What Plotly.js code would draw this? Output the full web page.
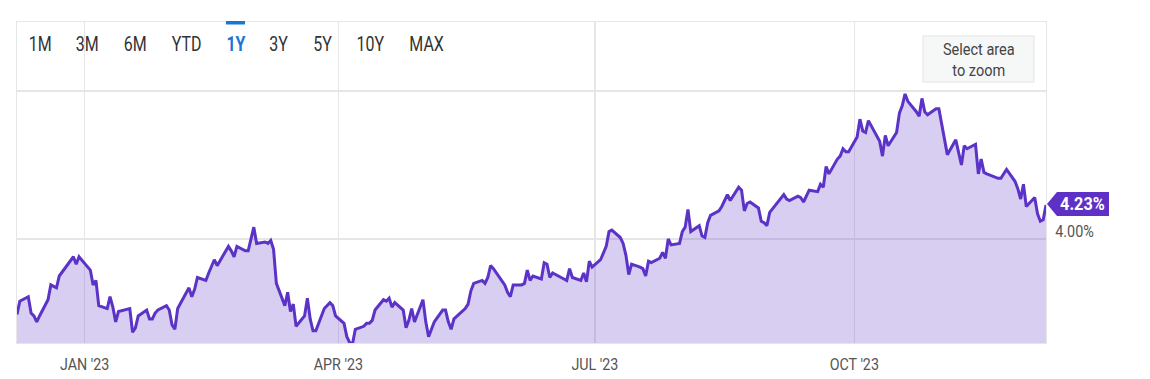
<!DOCTYPE html>
<html>
<head>
<meta charset="utf-8">
<script src="https://cdn.plot.ly/plotly-3.0.1.min.js"></script>
<style>
  html, body { margin: 0; padding: 0; background: #ffffff; }
  #chart { width: 1150px; height: 379px; }
</style>
</head>
<body>
<div id="chart"></div>
<script>
// ---- Data (10-year yield, daily, Dec 2022 – Dec 2023) ----
const dates = [
  '2022-12-08','2022-12-09','2022-12-12','2022-12-13','2022-12-14','2022-12-15','2022-12-16','2022-12-19','2022-12-20','2022-12-21','2022-12-22','2022-12-23','2022-12-27','2022-12-28','2022-12-29','2022-12-30',
  '2023-01-03','2023-01-04','2023-01-05','2023-01-06','2023-01-09','2023-01-10','2023-01-11','2023-01-12','2023-01-13','2023-01-17','2023-01-18','2023-01-19','2023-01-20','2023-01-23','2023-01-24','2023-01-25','2023-01-26','2023-01-27','2023-01-30','2023-01-31',
  '2023-02-01','2023-02-02','2023-02-03','2023-02-06','2023-02-07','2023-02-08','2023-02-09','2023-02-10','2023-02-13','2023-02-14','2023-02-15','2023-02-16','2023-02-17','2023-02-21','2023-02-22','2023-02-23','2023-02-24','2023-02-27','2023-02-28',
  '2023-03-01','2023-03-02','2023-03-03','2023-03-06','2023-03-07','2023-03-08','2023-03-09','2023-03-10','2023-03-13','2023-03-14','2023-03-15','2023-03-16','2023-03-17','2023-03-20','2023-03-21','2023-03-22','2023-03-23','2023-03-24','2023-03-27','2023-03-28','2023-03-29','2023-03-30','2023-03-31',
  '2023-04-03','2023-04-04','2023-04-05','2023-04-06','2023-04-07','2023-04-10','2023-04-11','2023-04-12','2023-04-13','2023-04-14','2023-04-17','2023-04-18','2023-04-19','2023-04-20','2023-04-21','2023-04-24','2023-04-25','2023-04-26','2023-04-27','2023-04-28',
  '2023-05-01','2023-05-02','2023-05-03','2023-05-04','2023-05-05','2023-05-08','2023-05-09','2023-05-10','2023-05-11','2023-05-12','2023-05-15','2023-05-16','2023-05-17','2023-05-18','2023-05-19','2023-05-22','2023-05-23','2023-05-24','2023-05-25','2023-05-26','2023-05-30','2023-05-31',
  '2023-06-01','2023-06-02','2023-06-05','2023-06-06','2023-06-07','2023-06-08','2023-06-09','2023-06-12','2023-06-13','2023-06-14','2023-06-15','2023-06-16','2023-06-20','2023-06-21','2023-06-22','2023-06-23','2023-06-26','2023-06-27','2023-06-28','2023-06-29','2023-06-30',
  '2023-07-03','2023-07-05','2023-07-06','2023-07-07','2023-07-10','2023-07-11','2023-07-12','2023-07-13','2023-07-14','2023-07-17','2023-07-18','2023-07-19','2023-07-20','2023-07-21','2023-07-24','2023-07-25','2023-07-26','2023-07-27','2023-07-28','2023-07-31',
  '2023-08-01','2023-08-02','2023-08-03','2023-08-04','2023-08-07','2023-08-08','2023-08-09','2023-08-10','2023-08-11','2023-08-14','2023-08-15','2023-08-16','2023-08-17','2023-08-18','2023-08-21','2023-08-22','2023-08-23','2023-08-24','2023-08-25','2023-08-28','2023-08-29','2023-08-30','2023-08-31',
  '2023-09-01','2023-09-05','2023-09-06','2023-09-07','2023-09-08','2023-09-11','2023-09-12','2023-09-13','2023-09-14','2023-09-15','2023-09-18','2023-09-19','2023-09-20','2023-09-21','2023-09-22','2023-09-25','2023-09-26','2023-09-27','2023-09-28','2023-09-29',
  '2023-10-02','2023-10-03','2023-10-04','2023-10-05','2023-10-06','2023-10-10','2023-10-11','2023-10-12','2023-10-13','2023-10-16','2023-10-17','2023-10-18','2023-10-19','2023-10-20','2023-10-23','2023-10-24','2023-10-25','2023-10-26','2023-10-27','2023-10-30','2023-10-31',
  '2023-11-01','2023-11-02','2023-11-03','2023-11-06','2023-11-07','2023-11-08','2023-11-09','2023-11-10','2023-11-13','2023-11-14','2023-11-15','2023-11-16','2023-11-17','2023-11-20','2023-11-21','2023-11-22','2023-11-24','2023-11-27','2023-11-28','2023-11-29','2023-11-30',
  '2023-12-01','2023-12-04','2023-12-05','2023-12-06','2023-12-07','2023-12-08'
];
const yields = [
  3.49,3.58,3.61,3.50,3.48,3.44,3.48,3.59,3.69,3.68,3.67,3.75,3.86,3.88,3.83,3.88,
  3.79,3.69,3.72,3.55,3.53,3.61,3.54,3.44,3.51,3.53,3.37,3.40,3.48,3.52,3.46,3.46,3.50,3.52,3.55,3.52,
  3.42,3.39,3.53,3.64,3.67,3.61,3.66,3.74,3.72,3.77,3.81,3.86,3.82,3.95,3.92,3.88,3.95,3.92,3.92,
  4.01,4.08,3.97,3.98,3.97,3.99,3.93,3.70,3.55,3.64,3.51,3.56,3.41,3.48,3.60,3.46,3.38,3.38,3.53,3.55,3.57,3.55,3.48,
  3.43,3.34,3.30,3.29,3.39,3.41,3.43,3.43,3.45,3.52,3.59,3.58,3.60,3.54,3.57,3.52,3.40,3.45,3.53,3.44,
  3.59,3.44,3.34,3.39,3.44,3.52,3.52,3.44,3.39,3.46,3.51,3.53,3.56,3.65,3.70,3.72,3.70,3.74,3.82,3.80,3.69,3.64,
  3.61,3.69,3.69,3.70,3.79,3.72,3.75,3.73,3.84,3.83,3.74,3.77,3.73,3.72,3.80,3.74,3.72,3.77,3.71,3.85,3.81,
  3.86,3.95,4.05,4.06,4.01,3.97,3.89,3.76,3.83,3.81,3.80,3.75,3.85,3.84,3.87,3.91,3.87,4.00,3.96,3.97,
  4.05,4.08,4.20,4.05,4.09,4.02,4.01,4.11,4.16,4.19,4.22,4.26,4.30,4.26,4.35,4.33,4.19,4.24,4.25,4.21,4.12,4.11,4.09,
  4.18,4.27,4.30,4.27,4.26,4.29,4.28,4.25,4.29,4.33,4.32,4.37,4.35,4.49,4.44,4.54,4.56,4.61,4.59,4.59,
  4.69,4.81,4.73,4.72,4.80,4.66,4.56,4.70,4.63,4.72,4.85,4.90,4.98,4.93,4.86,4.83,4.95,4.86,4.84,4.88,4.88,
  4.77,4.67,4.57,4.67,4.58,4.50,4.63,4.61,4.64,4.44,4.54,4.45,4.44,4.42,4.41,4.41,4.47,4.39,4.34,4.27,4.37,
  4.22,4.28,4.17,4.12,4.13,4.23
];
const xTickDates  = ['2023-01-01','2023-04-01','2023-07-01','2023-10-01'];
const xTickLabels = ["JAN '23","APR '23","JUL '23","OCT '23"];
const yTickVals   = [4, 5];
const yTickLabels = ['4.00%', ''];
const rangeButtons = ['1M','3M','6M','YTD','1Y','3Y','5Y','10Y','MAX'];
const activeButton = '1Y';

// ---- Layout helpers (pixel -> paper) ----
const W = 1150, H = 379;
const M = {l: 17, r: 104, t: 22, b: 36};
const PW = W - M.l - M.r, PH = H - M.t - M.b;
const px = x => (x - M.l) / PW;
const py = y => (H - M.b - y) / PH;

const FONT = 'Roboto, Arial, sans-serif';
const LINE = '#5b33c6';
const PURPLE = '#5f30c6';

const buttonCenters = [40, 87.5, 135, 186, 236, 278.5, 322.5, 370, 427];

const annotations = rangeButtons.map((b, i) => ({
  xref: 'paper', yref: 'paper', x: px(buttonCenters[i]), y: py(44),
  xanchor: 'center', yanchor: 'middle', showarrow: false,
  text: b === activeButton ? '<b>' + b + '</b>' : b,
  font: {family: FONT, size: 20, color: b === activeButton ? '#1a76d2' : '#333333'}
}));

annotations.push({
  xref: 'paper', yref: 'paper', x: px(978.5), y: py(60.5),
  xanchor: 'center', yanchor: 'middle', showarrow: false,
  text: 'Select area<br>to zoom', align: 'center',
  font: {family: FONT, size: 16.5, color: '#444444'}
});

const last = yields[yields.length - 1];
annotations.push({
  xref: 'paper', yref: 'y', x: 1, y: last, xshift: 36, yshift: 1,
  xanchor: 'center', yanchor: 'middle', showarrow: false,
  text: '<b>' + last.toFixed(2) + '%</b>',
  font: {family: FONT, size: 18.5, color: '#ffffff'}
});

const shapes = [
  // active range underline
  {type: 'rect', xref: 'paper', yref: 'paper', x0: px(226), x1: px(245), y0: py(24.5), y1: py(21),
   fillcolor: '#1a76d2', line: {width: 0}, layer: 'above'},
  // select-area box
  {type: 'rect', xref: 'paper', yref: 'paper', x0: px(923), x1: px(1034), y0: py(82), y1: py(36),
   fillcolor: '#f6f7f7', line: {color: '#e3e3e3', width: 1}, layer: 'above'},
  // last value tag
  {type: 'path', xref: 'paper', yref: 'y', xsizemode: 'pixel', ysizemode: 'pixel',
   xanchor: 1, yanchor: last,
   path: 'M 1 1 L 11 -11 L 63 -11 L 63 13 L 11 13 Z',
   fillcolor: PURPLE, line: {width: 0}, layer: 'above'}
];

const trace = {
  type: 'scatter', mode: 'lines', x: dates, y: yields,
  line: {color: LINE, width: 3, shape: 'linear'},
  fill: 'tozeroy', fillcolor: 'rgba(94,52,197,0.245)',
  hoverinfo: 'skip'
};

const layout = {
  width: W, height: H,
  margin: M,
  paper_bgcolor: '#ffffff', plot_bgcolor: '#ffffff',
  showlegend: false,
  font: {family: FONT},
  xaxis: {
    type: 'date', range: ['2022-12-08', '2023-12-08'],
    tickvals: xTickDates, ticktext: xTickLabels,
    showgrid: true, gridcolor: '#e6e6e6', gridwidth: 1.2,
    ticks: 'outside', ticklen: 6, tickcolor: 'rgba(0,0,0,0)',
    tickfont: {family: FONT, size: 17, color: '#555555'},
    showline: true, linecolor: '#e6e6e6', linewidth: 1, mirror: true,
    zeroline: false, fixedrange: true
  },
  yaxis: {
    range: [3.2973, 5.4662], side: 'right',
    tickvals: yTickVals, ticktext: yTickLabels,
    ticklabelposition: 'outside top', ticklabelstandoff: 5, ticklabelshift: 4,
    showgrid: true, gridcolor: '#e6e6e6', gridwidth: 1.2,
    ticks: '', tickfont: {family: FONT, size: 16, color: '#555555'},
    showline: true, linecolor: '#e6e6e6', linewidth: 1, mirror: true,
    zeroline: false, fixedrange: true
  },
  annotations: annotations,
  shapes: shapes
};

// Narrow the glyphs horizontally to match the condensed face of the original
function condense(el, f) {
  try {
    const w = el.getComputedTextLength();
    if (w > 0) {
      el.setAttribute('textLength', (w * f).toFixed(2));
      el.setAttribute('lengthAdjust', 'spacingAndGlyphs');
    }
  } catch (e) {}
}

Plotly.newPlot('chart', [trace], layout, {displayModeBar: false, staticPlot: true}).then(gd => {
  const annEls = gd.querySelectorAll('.annotation');
  annEls.forEach((a, i) => {
    const t = a.querySelector('text.annotation-text');
    if (!t) return;
    if (i < rangeButtons.length) condense(t, 0.8);
    else {
      const lines = t.querySelectorAll('tspan.line');
      if (lines.length) lines.forEach(l => condense(l, 0.88));
      else condense(t, 0.88);
    }
  });
  gd.querySelectorAll('.xtick text').forEach(t => condense(t, 0.84));
  gd.querySelectorAll('.ytick text').forEach(t => condense(t, 0.9));
});
</script>
</body>
</html>
